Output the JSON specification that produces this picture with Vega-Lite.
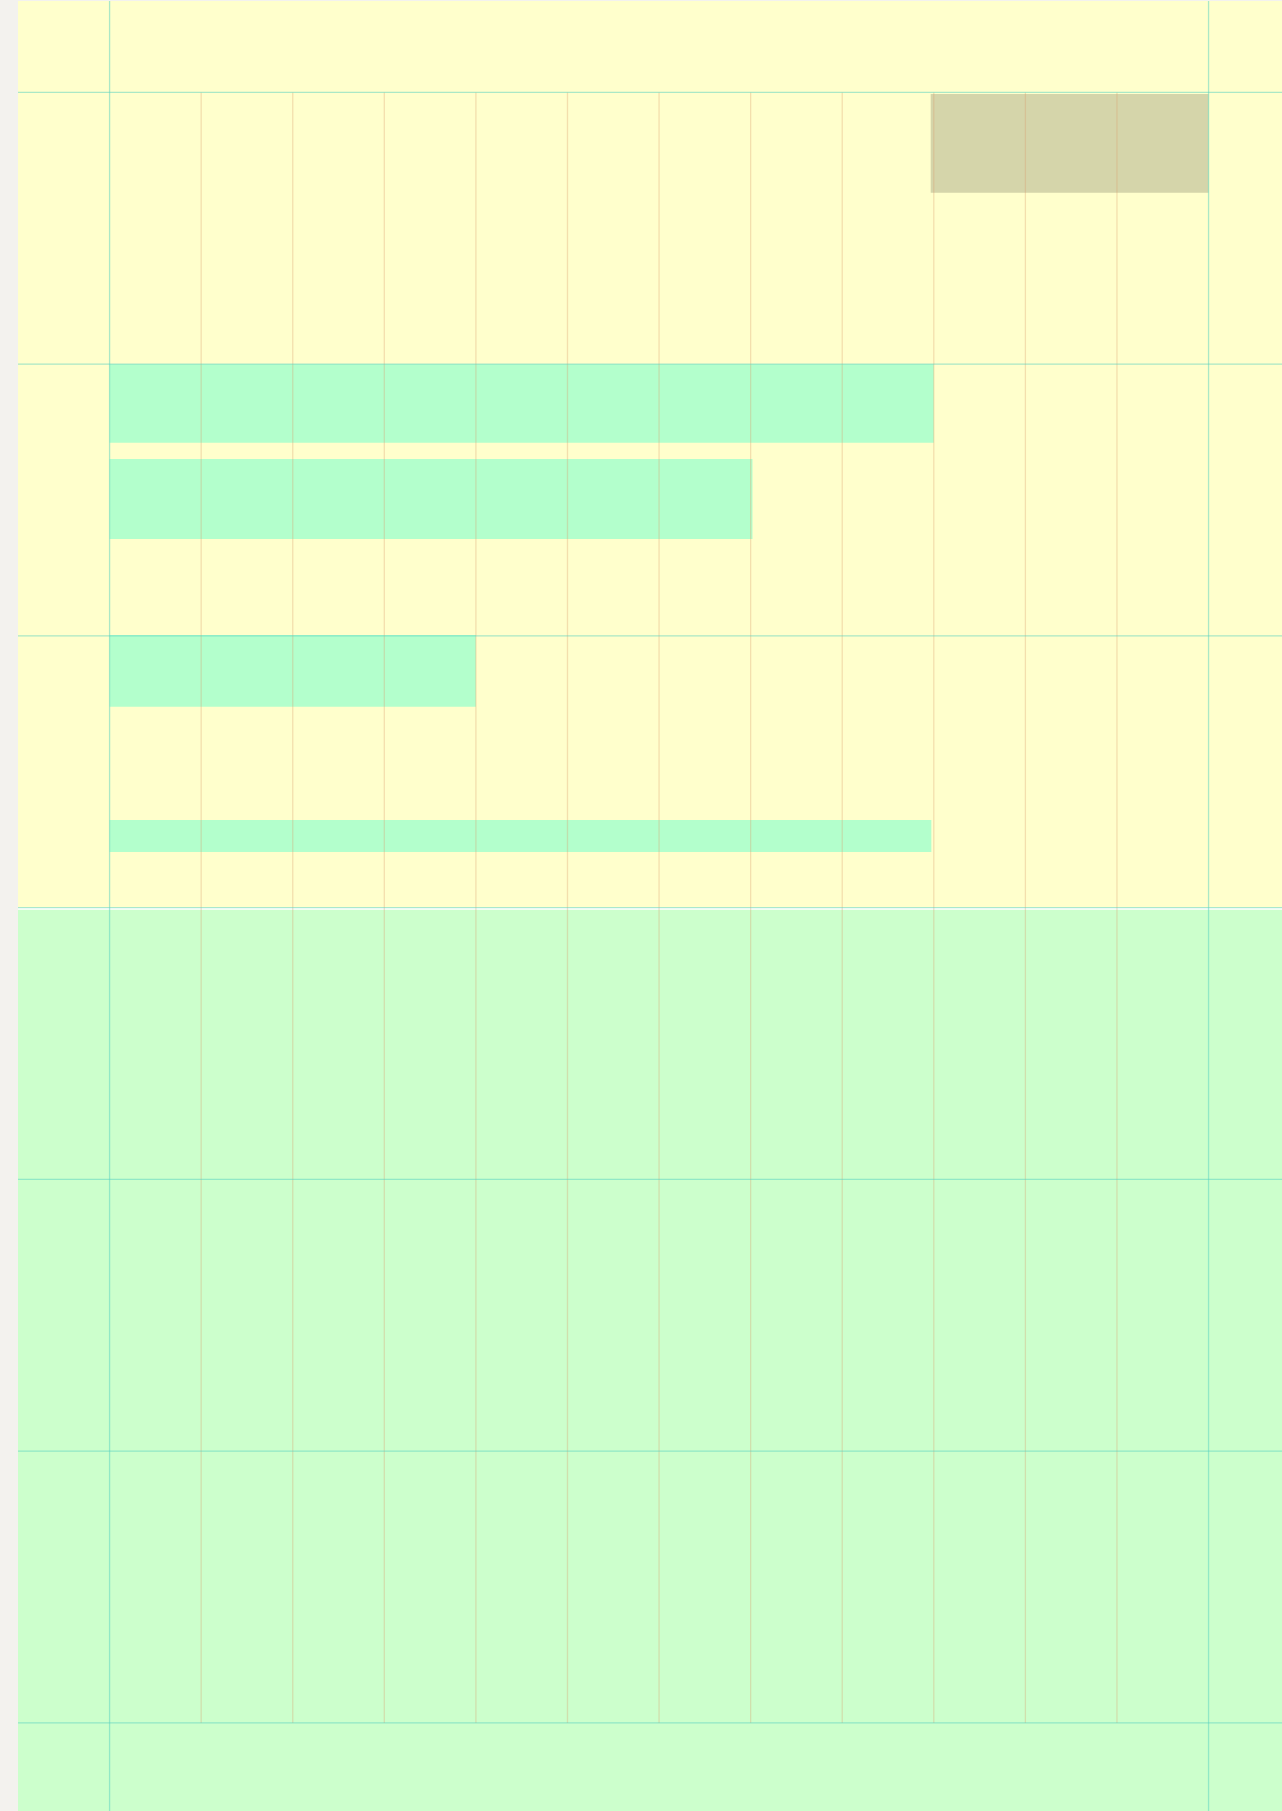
{
  "$schema": "https://vega.github.io/schema/vega-lite/v6.json",
  "autosize": "none",
  "width": 1264,
  "height": 1810,
  "padding": {"left": 18, "top": 1, "right": 0, "bottom": 0},
  "background": "#f3f2ee",
  "config": {"view": {"fill": "#ffffff", "stroke": null}},
  "datasets": {
    "zones": [
      {"x": -1, "x2": 12.802, "y": -0.3363, "y2": 3.0, "zone": "upper"},
      {"x": -1, "x2": 12.802, "y": 3.008, "y2": 6.324, "zone": "lower"}
    ],
    "tasks": [
      {"task": "A", "start": 8.966, "end": 12.0, "top": 0.006, "bottom": 0.369, "kind": "grey"},
      {"task": "B", "start": 0, "end": 9.0, "top": 1.0, "bottom": 1.289, "kind": "green"},
      {"task": "C", "start": 0, "end": 7.02, "top": 1.349, "bottom": 1.643, "kind": "green"},
      {"task": "D", "start": 0, "end": 4.0, "top": 1.997, "bottom": 2.261, "kind": "green"},
      {"task": "E", "start": 0, "end": 8.973, "top": 2.677, "bottom": 2.795, "kind": "green"}
    ],
    "cols": [
      {"col": 1}, {"col": 2}, {"col": 3}, {"col": 4}, {"col": 5}, {"col": 6},
      {"col": 7}, {"col": 8}, {"col": 9}, {"col": 10}, {"col": 11}
    ],
    "edges": [
      {"col": 0}, {"col": 12}
    ],
    "rows": [
      {"row": 0}, {"row": 1}, {"row": 2}, {"row": 3}, {"row": 4}, {"row": 5}, {"row": 6}
    ]
  },
  "layer": [
    {
      "data": {"name": "zones"},
      "mark": {"type": "rect"},
      "encoding": {
        "x": {"field": "x", "type": "quantitative", "scale": {"domain": [-1, 12.802], "nice": false, "zero": false}, "axis": null},
        "x2": {"field": "x2"},
        "y": {"field": "y", "type": "quantitative", "scale": {"domain": [-0.3363, 6.324], "nice": false, "zero": false, "reverse": true}, "axis": null},
        "y2": {"field": "y2"},
        "color": {"field": "zone", "type": "nominal", "scale": {"domain": ["upper", "lower"], "range": ["#ffffcc", "#ccffcc"]}, "legend": null}
      }
    },
    {
      "data": {"name": "tasks"},
      "mark": {"type": "rect"},
      "encoding": {
        "x": {"field": "start", "type": "quantitative"},
        "x2": {"field": "end"},
        "y": {"field": "top", "type": "quantitative"},
        "y2": {"field": "bottom"},
        "fill": {"field": "kind", "type": "nominal", "scale": {"domain": ["grey", "green"], "range": ["#d5d5aa", "#b3ffcc"]}, "legend": null}
      }
    },
    {
      "data": {"name": "cols"},
      "mark": {"type": "rule", "color": "#d99a6c", "opacity": 0.32, "strokeWidth": 1.3},
      "encoding": {
        "x": {"field": "col", "type": "quantitative"},
        "y": {"datum": 0, "type": "quantitative"},
        "y2": {"datum": 6}
      }
    },
    {
      "data": {"name": "edges"},
      "mark": {"type": "rule", "color": "#55d2c0", "opacity": 0.5, "strokeWidth": 1.3},
      "encoding": {
        "x": {"field": "col", "type": "quantitative"},
        "y": {"datum": -0.3363, "type": "quantitative"},
        "y2": {"datum": 6.324}
      }
    },
    {
      "data": {"name": "rows"},
      "mark": {"type": "rule", "color": "#55d2c0", "opacity": 0.5, "strokeWidth": 1.3},
      "encoding": {
        "y": {"field": "row", "type": "quantitative"},
        "x": {"datum": -1, "type": "quantitative"},
        "x2": {"datum": 12.802}
      }
    }
  ]
}
